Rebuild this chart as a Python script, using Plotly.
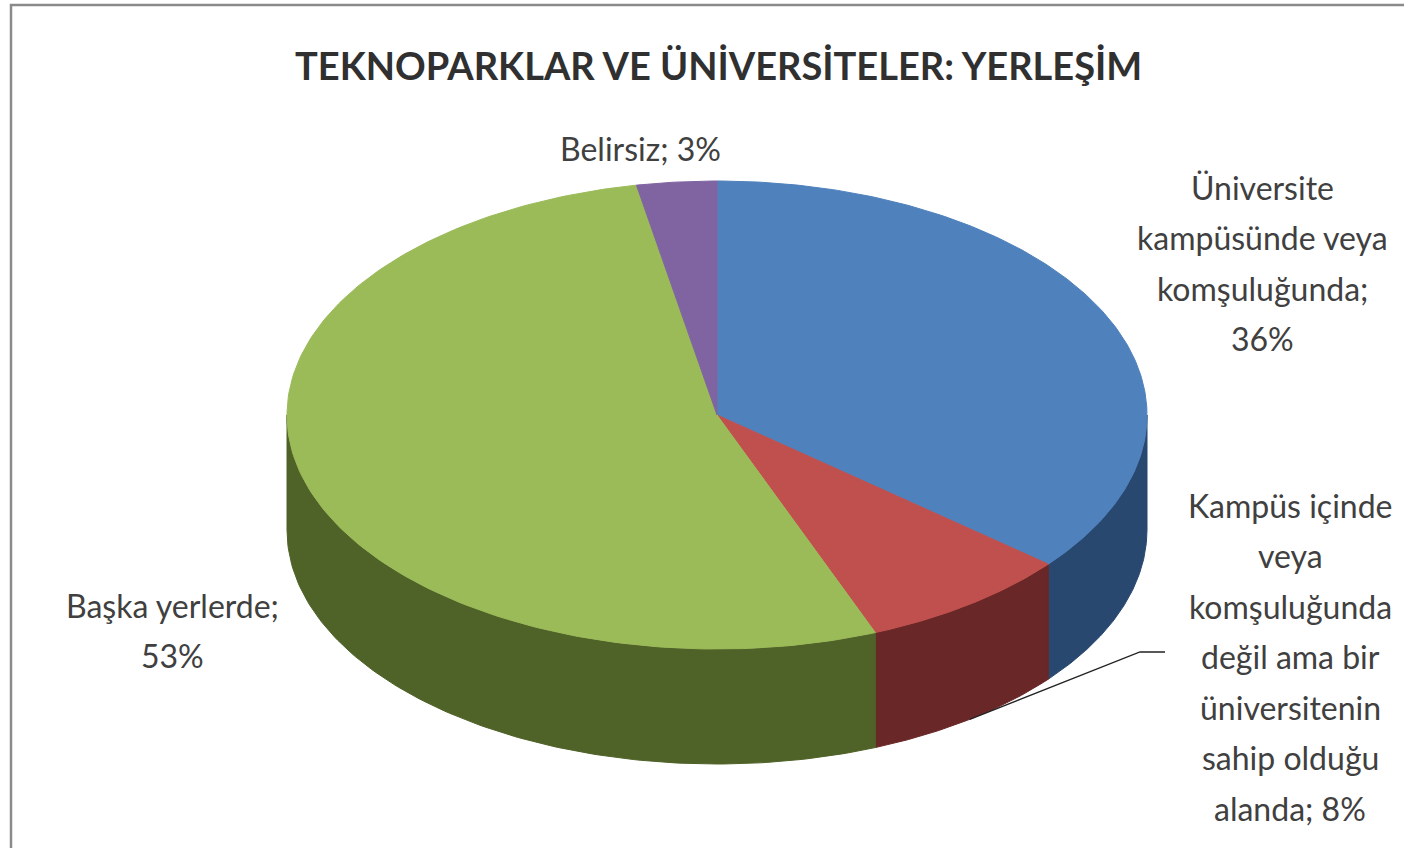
import numpy as np
import plotly.graph_objects as go

# ---------------- data ----------------
categories = [
    "Üniversite kampüsünde veya komşuluğunda",
    "Kampüs içinde veya komşuluğunda değil ama bir üniversitenin sahip olduğu alanda",
    "Başka yerlerde",
    "Belirsiz",
]
values = [36, 8, 53, 3]
label_lines = [
    ["Üniversite", "kampüsünde veya", "komşuluğunda;", "36%"],
    ["Kampüs içinde", "veya", "komşuluğunda", "değil ama bir", "üniversitenin", "sahip olduğu", "alanda; 8%"],
    ["Başka yerlerde;", "53%"],
    ["Belirsiz; 3%"],
]
title = "TEKNOPARKLAR VE ÜNİVERSİTELER: YERLEŞİM"

# ---------------- style ----------------
top_colors = ["#4F81BD", "#C0504D", "#9BBB59", "#8064A2"]
side_colors = ["#284870", "#6A2727", "#4F6228", "#4A3A62"]
W, H = 1404, 848
cx, cy, rx, ry, depth = 717, 415, 430, 234, 115
label_pos = [(1262, 187), (1290, 505), (172, 605), (640, 148)]
line_gap = 50.5
font_fam = "Lato, 'Open Sans', sans-serif"
txt_color = "#404040"

fig = go.Figure()

fr = np.array(values, dtype=float) / sum(values)
ends = np.cumsum(fr) * 360.0
starts = ends - fr * 360.0


def pt(theta_deg, dy=0.0):
    t = np.radians(theta_deg)
    return cx + rx * np.sin(t), cy - ry * np.cos(t) + dy


# side walls (front half: 90..270 deg clockwise from top)
for i in range(len(values)):
    a, b = max(starts[i], 90.0), min(ends[i], 270.0)
    if b <= a:
        continue
    th = np.linspace(a, b, 120)
    xt, yt = pt(th)
    xb, yb = pt(th[::-1], depth)
    xs = np.concatenate([xt, xb, xt[:1]])
    ys = np.concatenate([yt, yb, yt[:1]])
    fig.add_trace(go.Scatter(x=xs, y=ys, mode="lines", fill="toself",
                             fillcolor=side_colors[i],
                             line=dict(width=1, color=side_colors[i]),
                             hoverinfo="skip", showlegend=False))

# top faces
for i in range(len(values)):
    th = np.linspace(starts[i], ends[i], 200)
    xa, ya = pt(th)
    xs = np.concatenate([[cx], xa, [cx]])
    ys = np.concatenate([[cy], ya, [cy]])
    fig.add_trace(go.Scatter(x=xs, y=ys, mode="lines", fill="toself",
                             fillcolor=top_colors[i],
                             line=dict(width=1, color=top_colors[i]),
                             name=categories[i], hoverinfo="skip", showlegend=False))

# leader line for the small red slice
mid = (starts[1] + ends[1]) / 2
ex, ey = pt(mid, depth)
fig.add_trace(go.Scatter(x=[ex, 1140, 1165], y=[ey, 652, 652], mode="lines",
                         line=dict(width=1.3, color="#222222"),
                         hoverinfo="skip", showlegend=False))

# labels
annotations = []
for (lx, ly), lines in zip(label_pos, label_lines):
    for k, s in enumerate(lines):
        annotations.append(dict(x=lx, y=ly + k * line_gap, xref="x", yref="y",
                                text=s, showarrow=False, xanchor="center", yanchor="middle",
                                font=dict(family=font_fam, size=32, color=txt_color)))
annotations.append(dict(x=718, y=65, xref="x", yref="y", text="<b>" + title + "</b>",
                        showarrow=False, xanchor="center", yanchor="middle",
                        font=dict(family=font_fam, size=38, color="#303030")))

fig.update_layout(
    width=W, height=H,
    margin=dict(l=0, r=0, t=0, b=0),
    paper_bgcolor="white", plot_bgcolor="white",
    xaxis=dict(range=[0, W], visible=False, fixedrange=True),
    yaxis=dict(range=[H, 0], visible=False, fixedrange=True),
    annotations=annotations,
    shapes=[dict(type="rect", xref="x", yref="y", x0=11, y0=5, x1=W + 10, y1=H + 10,
                 line=dict(color="#8a8a8a", width=2.5), layer="above")],
)

fig.write_html("out.html", config={"displayModeBar": False},
               post_script="document.body.style.margin='0';")
